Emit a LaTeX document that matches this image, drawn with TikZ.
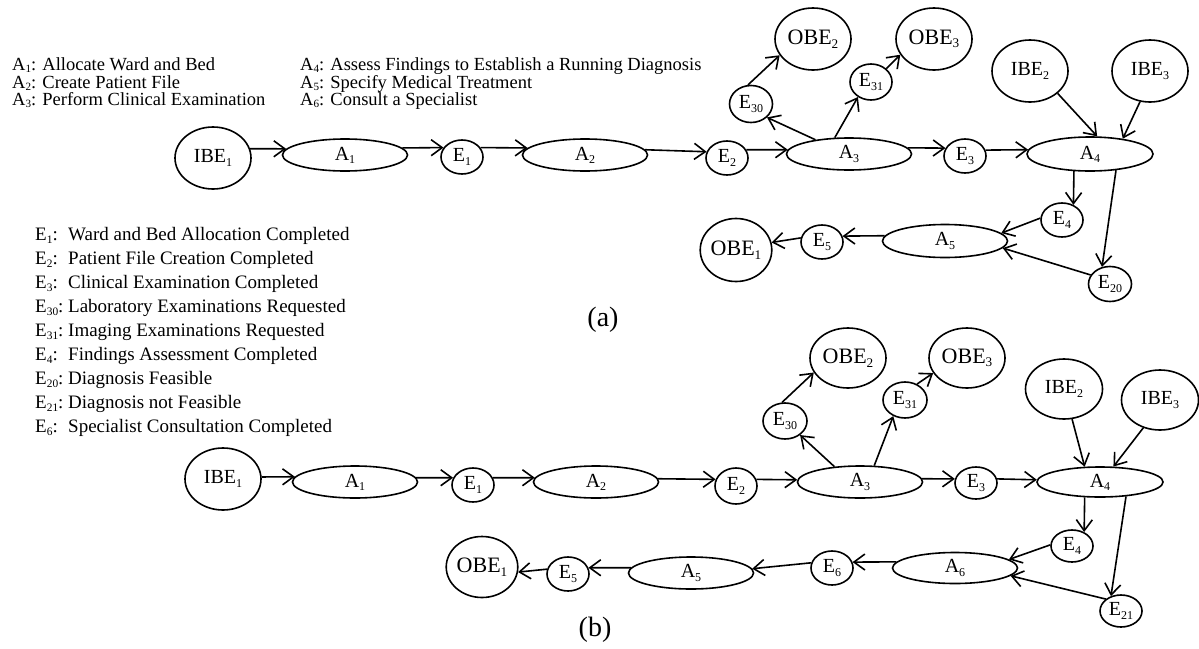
\documentclass[tikz,border=0pt]{standalone}
\usepackage{fontspec}
\setmainfont{Liberation Serif}
\usetikzlibrary{shapes.geometric,arrows.meta}
\makeatletter
\newcommand\sbs[1]{\edef\sbsize{\strip@pt\dimexpr 0.6\dimexpr\f@size pt\relax\relax}\raisebox{-0.16em}{\fontsize{\sbsize}{\sbsize}\selectfont #1}}
\makeatother
\begin{document}
\begin{tikzpicture}[x=1pt,y=-1pt,
  every node/.style={font=\fontsize{20}{22}\selectfont},
  ell/.style 2 args={ellipse,draw,line width=1.6pt,minimum width=#1pt,minimum height=#2pt,inner sep=0pt},
  act/.style={ell={125}{32}},
  evt/.style={ell={42}{34}},
  bnd/.style={ell={76}{62}},
  obe/.style={font=\fontsize{22}{24}\selectfont},
  arr/.style={draw,line width=1.6pt,-{Straight Barb[length=11pt,width=16pt]}},
  leg/.style={anchor=base west,inner sep=0pt,font=\fontsize{18.5}{18}\selectfont},
  legE/.style={anchor=base west,inner sep=0pt,font=\fontsize{19}{19}\selectfont},
  capt/.style={font=\fontsize{28}{28}\selectfont}
]
\useasboundingbox (0,0) rectangle (1199,648);

% ---------- legends ----------
\node[leg] (la1) at (12,70)  {A\sbs{1}: Allocate Ward and Bed};
\node[leg] (la2) at (12,88)  {A\sbs{2}: Create Patient File};
\node[leg] (la3) at (12,105) {A\sbs{3}: Perform Clinical Examination};
\node[leg] (la4) at (300,70)  {A\sbs{4}: Assess Findings to Establish a Running Diagnosis};
\node[leg] (la5) at (300,88)  {A\sbs{5}: Specify Medical Treatment};
\node[leg] (la6) at (300,105) {A\sbs{6}: Consult a Specialist};

\node[legE] (le1)  at (35,240)   {\makebox[33pt][l]{E\sbs{1}:}Ward and Bed Allocation Completed};
\node[legE] (le2)  at (35,264.1) {\makebox[33pt][l]{E\sbs{2}:}Patient File Creation Completed};
\node[legE] (le3)  at (35,288.2) {\makebox[33pt][l]{E\sbs{3}:}Clinical Examination Completed};
\node[legE] (le30) at (35,312.3) {\makebox[33pt][l]{E\sbs{30}:}Laboratory Examinations Requested};
\node[legE] (le31) at (35,336.4) {\makebox[33pt][l]{E\sbs{31}:}Imaging Examinations Requested};
\node[legE] (le4)  at (35,360.5) {\makebox[33pt][l]{E\sbs{4}:}Findings Assessment Completed};
\node[legE] (le20) at (35,384.6) {\makebox[33pt][l]{E\sbs{20}:}Diagnosis Feasible};
\node[legE] (le21) at (35,408.7) {\makebox[33pt][l]{E\sbs{21}:}Diagnosis not Feasible};
\node[legE] (le6)  at (35,432.8) {\makebox[33pt][l]{E\sbs{6}:}Specialist Consultation Completed};

% ---------- (a) ----------
\node[bnd] (aIBE1) at (213,158) {IBE\sbs{1}};
\node[act] (aA1) at (345,155) {A\sbs{1}};
\node[evt] (aE1) at (462,157) {E\sbs{1}};
\node[act] (aA2) at (585,155) {A\sbs{2}};
\node[evt] (aE2) at (727,158) {E\sbs{2}};
\node[act] (aA3) at (849,154) {A\sbs{3}};
\node[evt] (aE3) at (965,156) {E\sbs{3}};
\node[ell={126}{34}] (aA4) at (1090,154) {A\sbs{4}};
\node[ell={43}{37}] (aE30) at (751,104) {E\sbs{30}};
\node[ell={42}{36}] (aE31) at (871,82) {E\sbs{31}};
\node[ell={76}{62},obe] (aOBE2) at (813,39) {OBE\sbs{2}};
\node[ell={76}{62},obe] (aOBE3) at (934,39) {OBE\sbs{3}};
\node[ell={76}{62}] (aIBE2) at (1030,71) {IBE\sbs{2}};
\node[ell={76}{62}] (aIBE3) at (1150,71) {IBE\sbs{3}};
\node[evt] (aE4) at (1062,220) {E\sbs{4}};
\node[ell={43}{35}] (aE20) at (1110,284) {E\sbs{20}};
\node[ell={125}{33}] (aA5) at (945,241) {A\sbs{5}};
\node[evt] (aE5) at (822,242) {E\sbs{5}};
\node[ell={67}{63},obe] (aOBE1) at (736,250) {OBE\sbs{1}};
\node[capt] (capa) at (603,320) {(a)};

\draw[arr] (aIBE1.14) -- (aA1.174);
\draw[arr] (aA1.7) -- (aE1.153);
\draw[arr] (aE1.27) -- (aA2.173);
\draw[arr] (aA2.5) -- (aE2.163);
\draw[arr] (aE2.23) -- (aA3.176);
\draw[arr] (aA3.6) -- (aE3.158);
\draw[arr] (aE3.16) -- (aA4.176);
\draw[arr] (aA3.157) -- (aE30.-40);
\draw[arr] (aA3.131) -- (aE31.229);
\draw[arr] (aE30.99) -- (aOBE2.206);
\draw[arr] (aE31.41) -- (aOBE3.205);
\draw[arr] (aIBE2.-39) -- (aA4.68);
\draw[arr] (aIBE3.-108) -- (aA4.25);
\draw[arr] (aA4.-133) -- (aE4.53);
\draw[arr] (aA4.-32) -- (aE20.115);
\draw[arr] (aE4.175) -- (aA5.8);
\draw[arr] (aE20.155) -- (aA5.-7);
\draw[arr] (aA5.175) -- (aE5.16);
\draw[arr] (aE5.169) -- (aOBE1.12);

% ---------- (b) ----------
\node[bnd] (bIBE1) at (223,479) {IBE\sbs{1}};
\node[act] (bA1) at (355,482) {A\sbs{1}};
\node[evt] (bE1) at (473,485) {E\sbs{1}};
\node[act] (bA2) at (596,482) {A\sbs{2}};
\node[ell={42}{36}] (bE2) at (736,486) {E\sbs{2}};
\node[act] (bA3) at (860,482) {A\sbs{3}};
\node[ell={42}{32}] (bE3) at (976,483) {E\sbs{3}};
\node[ell={126}{30}] (bA4) at (1100,482) {A\sbs{4}};
\node[ell={44}{36}] (bE30) at (785,421) {E\sbs{30}};
\node[ell={44}{36}] (bE31) at (905,400) {E\sbs{31}};
\node[ell={76}{60},obe] (bOBE2) at (848,358) {OBE\sbs{2}};
\node[ell={76}{60},obe] (bOBE3) at (967,358) {OBE\sbs{3}};
\node[ell={77}{60}] (bIBE2) at (1064,389) {IBE\sbs{2}};
\node[ell={77}{60}] (bIBE3) at (1160,400) {IBE\sbs{3}};
\node[ell={42}{32}] (bE4) at (1072,546) {E\sbs{4}};
\node[ell={42}{32}] (bE21) at (1121,611) {E\sbs{21}};
\node[ell={125}{31}] (bA6) at (955,568) {A\sbs{6}};
\node[evt] (bE6) at (832,568) {E\sbs{6}};
\node[ell={125}{32}] (bA5) at (691,573) {A\sbs{5}};
\node[evt] (bE5) at (568,574) {E\sbs{5}};
\node[ell={68}{61},obe] (bOBE1) at (482,567) {OBE\sbs{1}};
\node[capt] (capb) at (595,630) {(b)};

\draw[arr] (bIBE1.3) -- (bA1.175);
\draw[arr] (bA1.4) -- (bE1.160);
\draw[arr] (bE1.20) -- (bA2.176);
\draw[arr] (bA2.3) -- (bE2.162);
\draw[arr] (bE2.18) -- (bA3.178);
\draw[arr] (bA3.3) -- (bE3.169);
\draw[arr] (bE3.11) -- (bA4.178);
\draw[arr] (bA3.149) -- (bE30.-43);
\draw[arr] (bA3.49) -- (bE31.234);
\draw[arr] (bE30.99) -- (bOBE2.203);
\draw[arr] (bE31.53) -- (bOBE3.204);
\draw[arr] (bIBE2.-75) -- (bA4.135);
\draw[arr] (bIBE3.-121) -- (bA4.49);
\draw[arr] (bA4.-135) -- (bE4.49);
\draw[arr] (bA4.-29) -- (bE21.124);
\draw[arr] (bE4.177) -- (bA6.9);
\draw[arr] (bE21.142) -- (bA6.-8);
\draw[arr] (bA6.174) -- (bE6.16);
\draw[arr] (bE6.166) -- (bA5.4);
\draw[arr] (bA5.175) -- (bE5.17);
\draw[arr] (bE5.167) -- (bOBE1.-8);
\end{tikzpicture}
\end{document}
